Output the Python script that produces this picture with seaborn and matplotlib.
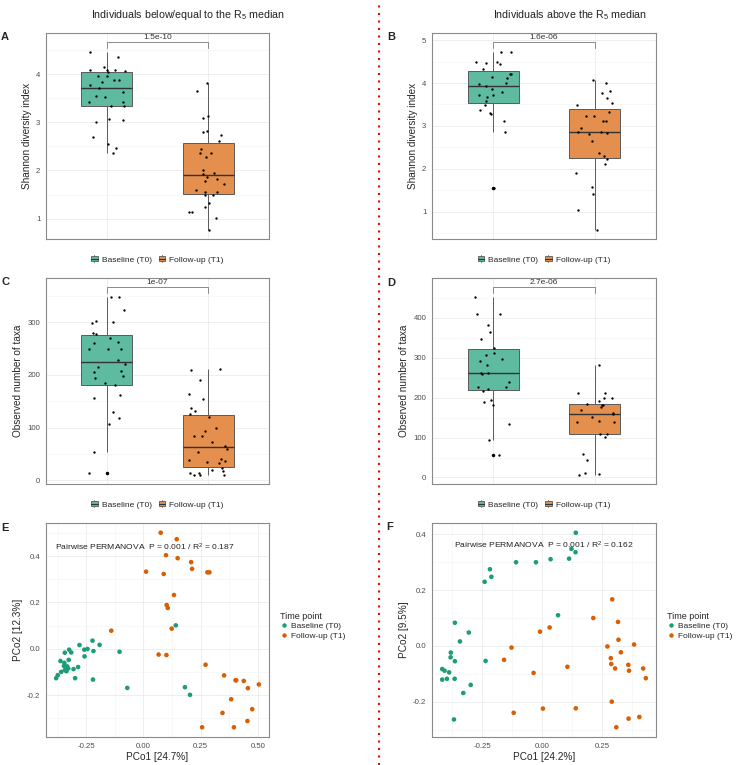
import numpy as np
import pandas as pd
import matplotlib
matplotlib.use("Agg")
import matplotlib.pyplot as plt
import seaborn as sns
from matplotlib.lines import Line2D
from matplotlib.patches import Patch, Rectangle
from matplotlib.ticker import MultipleLocator, FormatStrFormatter

# groups and colours
groups = ["Baseline (T0)", "Follow-up (T1)"]
point_cols = ["#1B9E77", "#D95F02"]
box_cols = ["#5FBB9F", "#E48F4D"]

# Shannon diversity, individuals below/equal to the R5 median
shannon_low_t0 = [4.47, 4.37, 4.15, 4.10, 4.07, 4.05, 4.09, 4.09, 3.97, 3.96, 3.89, 3.89,
                  3.85, 3.78, 3.71, 3.64, 3.55, 3.53, 3.42, 3.42, 3.34, 3.35, 3.00, 3.07,
                  3.05, 2.69, 2.55, 2.47, 2.36]
shannon_low_t1 = [3.81, 3.65, 3.14, 3.10, 2.83, 2.79, 2.73, 2.62, 2.45, 2.37, 2.36, 2.29,
                  2.00, 1.95, 1.93, 1.87, 1.83, 1.78, 1.71, 1.60, 1.55, 1.55, 1.48, 1.50,
                  1.32, 1.24, 1.13, 1.13, 1.01, 0.76]
# Shannon diversity, individuals above the R5 median
shannon_high_t0 = [4.73, 4.72, 4.45, 4.49, 4.47, 4.48, 4.32, 4.22, 4.22, 4.12, 4.14, 4.00,
                   3.97, 3.94, 3.85, 3.79, 3.73, 3.71, 3.67, 3.59, 3.49, 3.37, 3.30, 3.28,
                   3.11, 2.86, 1.56]
shannon_high_t1 = [4.07, 4.00, 3.82, 3.77, 3.65, 3.54, 3.49, 3.32, 3.22, 3.23, 3.11, 3.11,
                   2.96, 2.85, 2.86, 2.81, 2.84, 2.64, 2.37, 2.29, 2.22, 2.11, 1.89, 1.58,
                   1.40, 1.05, 0.57]
# observed taxa
taxa_low_t0 = [348, 347, 322, 299, 302, 300, 280, 277, 270, 260, 263, 248, 248, 248, 229,
               220, 215, 205, 208, 197, 194, 184, 180, 161, 156, 130, 118, 106, 53, 13]
taxa_low_t1 = [191, 211, 209, 163, 154, 138, 132, 126, 120, 99, 94, 84, 84, 73, 65, 60, 53,
               39, 40, 36, 34, 32, 23, 20, 17, 13, 14, 11, 10, 10]
taxa_high_t0 = [453, 410, 410, 383, 364, 347, 324, 312, 306, 297, 293, 263, 282, 261, 259,
                239, 227, 227, 222, 217, 195, 190, 182, 133, 94, 56]
taxa_high_t1 = [283, 211, 211, 200, 200, 191, 184, 182, 182, 176, 168, 162, 158, 151, 141,
                138, 138, 110, 108, 101, 59, 44, 11, 8, 6]
pvals = ["1.5e-10", "1.6e-06", "1e-07", "2.7e-06"]

# PCoA, below/equal median
pco_low_t0_x = [-0.222, -0.279, -0.191, -0.244, -0.258, -0.218, -0.324, -0.315, -0.343, -0.104,
                -0.257, -0.362, -0.326, -0.345, -0.347, -0.333, -0.328, -0.285, -0.305, -0.343,
                -0.336, -0.359, -0.374, -0.298, -0.381, -0.220, -0.070, 0.182, 0.204, 0.142]
pco_low_t0_y = [0.035, 0.016, 0.017, -0.001, -0.004, -0.010, -0.004, -0.016, -0.017, -0.013,
                -0.033, -0.053, -0.048, -0.061, -0.074, -0.076, -0.085, -0.079, -0.088, -0.092,
                -0.097, -0.100, -0.114, -0.127, -0.127, -0.133, -0.169, -0.166, -0.199, 0.101]
pco_low_t1_x = [0.076, 0.146, 0.099, 0.150, 0.209, 0.213, 0.012, 0.089, 0.280, 0.289,
                0.134, 0.102, 0.107, 0.124, -0.140, 0.067, 0.101, 0.272, 0.353, 0.403,
                0.406, 0.439, 0.505, 0.457, 0.384, 0.476, 0.346, 0.455, 0.257, 0.396]
pco_low_t1_y = [0.501, 0.473, 0.404, 0.391, 0.374, 0.345, 0.333, 0.323, 0.330, 0.330,
                0.232, 0.189, 0.176, 0.087, 0.078, -0.025, -0.027, -0.069, -0.115, -0.136,
                -0.136, -0.139, -0.154, -0.170, -0.218, -0.261, -0.277, -0.312, -0.339, -0.339]
# PCoA, above median
pco_high_t0_x = [0.141, 0.123, 0.140, 0.113, 0.036, -0.025, -0.108, -0.217, -0.211, -0.239,
                 0.067, -0.363, -0.305, -0.342, -0.380, -0.381, -0.363, -0.235, -0.416, -0.406,
                 -0.387, -0.416, -0.396, -0.364, -0.297, -0.328, -0.367]
pco_high_t0_y = [0.406, 0.348, 0.336, 0.313, 0.311, 0.300, 0.300, 0.275, 0.248, 0.230,
                 0.110, 0.083, 0.048, 0.016, -0.024, -0.041, -0.055, -0.054, -0.083, -0.089,
                 -0.095, -0.121, -0.118, -0.118, -0.140, -0.169, -0.264]
pco_high_t1_x = [0.293, 0.214, 0.317, 0.032, -0.008, 0.319, 0.329, -0.127, 0.273, 0.384,
                 0.287, 0.289, -0.158, 0.360, 0.305, 0.106, 0.422, 0.363, 0.433, -0.035,
                 0.291, -0.118, 0.004, 0.141, 0.361, 0.406, 0.310]
pco_high_t1_y = [0.167, 0.100, 0.086, 0.066, 0.051, 0.022, -0.023, -0.006, -0.002, 0.005,
                 -0.044, -0.065, -0.050, -0.068, -0.081, -0.075, -0.081, -0.089, -0.116, -0.097,
                 -0.200, -0.240, -0.225, -0.224, -0.261, -0.255, -0.292]

sns.set_style("white")
plt.rcParams["font.family"] = ["Liberation Sans", "DejaVu Sans"]
plt.rcParams["axes.unicode_minus"] = False
plt.rcParams["mathtext.fontset"] = "custom"
plt.rcParams["mathtext.rm"] = "Liberation Sans"
plt.rcParams["mathtext.it"] = "Liberation Sans:italic"

W, H = 738, 765
fig = plt.figure(figsize=(W / 100, H / 100), dpi=100)


class BoxKey:
    # ggplot-like boxplot legend key: whisker, box and median line
    def legend_artist(self, legend, orig_handle, fontsize, handlebox):
        x0, y0 = handlebox.xdescent, handlebox.ydescent
        w, h = handlebox.width, handlebox.height
        tr = handlebox.get_transform()
        cx = x0 + w / 2
        handlebox.add_artist(Line2D([cx, cx], [y0 - 0.1 * h, y0 + 1.1 * h], color="#5a5a5a",
                                    lw=0.6, transform=tr))
        rect = Rectangle((x0, y0 + 0.15 * h), w, 0.7 * h, facecolor=orig_handle.get_facecolor(),
                         edgecolor="#5a5a5a", lw=0.6, transform=tr)
        handlebox.add_artist(rect)
        handlebox.add_artist(Line2D([x0, x0 + w], [y0 + 0.5 * h, y0 + 0.5 * h],
                                    color="#333333", lw=0.8, transform=tr))
        return rect


def px_axes(left, top, right, bottom):
    return fig.add_axes([left / W, 1 - bottom / H, (right - left) / W, (bottom - top) / H])


def style_axes(ax):
    ax.set_axisbelow(True)
    for s in ax.spines.values():
        s.set_color("#8a8a8a")
        s.set_linewidth(0.8)
    ax.grid(which="major", color="#EBEBEB", lw=0.6)
    ax.grid(which="minor", color="#F3F3F3", lw=0.4)
    ax.tick_params(which="major", length=2.5, width=0.6, color="#444444",
                   labelsize=5.6, labelcolor="#4D4D4D", pad=1.5)
    ax.tick_params(which="minor", length=0)


def box_panel(ax, t0, t1, ylabel, pval, step):
    df = pd.DataFrame({"time": [groups[0]] * len(t0) + [groups[1]] * len(t1),
                       "value": list(t0) + list(t1)})
    sns.boxplot(data=df, x="time", y="value", hue="time", palette=box_cols, saturation=1,
                width=0.5, linecolor="#5a5a5a", linewidth=0.7, legend=False, showcaps=False,
                flierprops=dict(marker="o", markersize=1.5, markerfacecolor="black",
                                markeredgecolor="black"),
                medianprops=dict(color="#333333", linewidth=1.0), ax=ax)
    sns.stripplot(data=df, x="time", y="value", color="black", size=1.7, jitter=0.19, ax=ax)
    lo, hi = df["value"].min(), df["value"].max()
    r = hi - lo
    yb = hi + 0.053 * r
    ax.plot([0, 0, 1, 1], [yb - 0.03 * r, yb, yb, yb - 0.03 * r], color="#8a8a8a", lw=0.7)
    ax.text(0.5, yb + 0.008 * r, pval, ha="center", va="bottom", fontsize=6, color="#333333")
    ax.set_ylim(lo - 0.05 * r, hi + 0.105 * r)
    ax.set_xlim(-0.6, 1.6)
    ax.yaxis.set_major_locator(MultipleLocator(step))
    ax.yaxis.set_minor_locator(MultipleLocator(step / 2))
    ax.set_xticks([0, 1])
    ax.set_xticklabels([])
    ax.set_xlabel("")
    ax.set_ylabel(ylabel, fontsize=7.2, labelpad=3)
    style_axes(ax)
    ax.tick_params(axis="x", length=0)
    handles = [Patch(facecolor=c) for c in box_cols]
    ax.legend(handles, groups, handler_map={Patch: BoxKey()},
              loc="center", bbox_to_anchor=(0.5, -0.102), ncol=2, frameon=False,
              fontsize=6, handlelength=0.8, handleheight=0.8, handletextpad=0.5,
              columnspacing=0.8)


def pco_panel(ax, x0, y0, x1, y1, xlabel, ylabel, stat):
    df = pd.DataFrame({"x": list(x0) + list(x1), "y": list(y0) + list(y1),
                       "time": [groups[0]] * len(x0) + [groups[1]] * len(x1)})
    sns.scatterplot(data=df, x="x", y="y", hue="time", palette=point_cols, s=11,
                    linewidth=0, legend=False, ax=ax)
    ax.xaxis.set_major_locator(MultipleLocator(0.25))
    ax.xaxis.set_minor_locator(MultipleLocator(0.125))
    ax.yaxis.set_major_locator(MultipleLocator(0.2))
    ax.yaxis.set_minor_locator(MultipleLocator(0.1))
    ax.xaxis.set_major_formatter(FormatStrFormatter("%.2f"))
    ax.yaxis.set_major_formatter(FormatStrFormatter("%.1f"))
    ax.set_xlabel(xlabel, fontsize=7.2, labelpad=1.5)
    ax.set_ylabel(ylabel, fontsize=7.2, labelpad=3)
    style_axes(ax)
    ax.text(stat[0], stat[1], stat[2], transform=ax.transAxes, ha="center", va="center",
            fontsize=6.1, color="#222222")
    handles = [Line2D([], [], marker="o", ls="", color=c, markersize=3.2, mew=0)
               for c in point_cols]
    ax.legend(handles, groups, title="Time point", loc="center left",
              bbox_to_anchor=(1.025, 0.52), frameon=False, fontsize=6, title_fontsize=6.5,
              handlelength=0.8, handletextpad=0.5, labelspacing=0.2, alignment="left",
              borderpad=0.2)


np.random.seed(7)
axA = px_axes(46, 33, 269, 239)
box_panel(axA, shannon_low_t0, shannon_low_t1, "Shannon diversity index", pvals[0], 1)
axB = px_axes(432, 33, 656, 239)
box_panel(axB, shannon_high_t0, shannon_high_t1, "Shannon diversity index", pvals[1], 1)
axC = px_axes(46, 278, 269, 484)
box_panel(axC, taxa_low_t0, taxa_low_t1, "Observed number of taxa", pvals[2], 100)
axD = px_axes(432, 278, 656, 484)
box_panel(axD, taxa_high_t0, taxa_high_t1, "Observed number of taxa", pvals[3], 100)

axE = px_axes(46, 523, 269, 737)
pco_panel(axE, pco_low_t0_x, pco_low_t0_y, pco_low_t1_x, pco_low_t1_y,
          "PCo1 [24.7%]", "PCo2 [12.3%]",
          (0.444, 0.888, r"Pairwise PERMANOVA  P = 0.001 / $\mathrm{R}^2$ = 0.187"))
axF = px_axes(432, 523, 656, 737)
pco_panel(axF, pco_high_t0_x, pco_high_t0_y, pco_high_t1_x, pco_high_t1_y,
          "PCo1 [24.2%]", "PCo2 [9.5%]",
          (0.5, 0.897, r"Pairwise PERMANOVA  P = 0.001 / $\mathrm{R}^2$ = 0.162"))

# column titles
fig.text(188 / W, 1 - 15 / H, r"Individuals below/equal to the $\mathrm{R}_5$ median",
         ha="center", va="center", fontsize=7.7, color="#222222")
fig.text(570 / W, 1 - 15 / H, r"Individuals above the $\mathrm{R}_5$ median",
         ha="center", va="center", fontsize=7.7, color="#222222")

# panel letters
for letter, x, y in [("A", 1, 37), ("B", 387, 37), ("C", 1, 282), ("D", 387, 283),
                     ("E", 1, 528), ("F", 386, 527)]:
    fig.text(x / W, 1 - y / H, letter, ha="left", va="center", fontsize=8, fontweight="bold")

# red dotted separator
fig.add_artist(Line2D([379 / W, 379 / W], [0, 1], transform=fig.transFigure, color="red",
                      lw=1.5, linestyle=(0, (1, 2.6))))

fig.savefig("out.png", dpi=100)
